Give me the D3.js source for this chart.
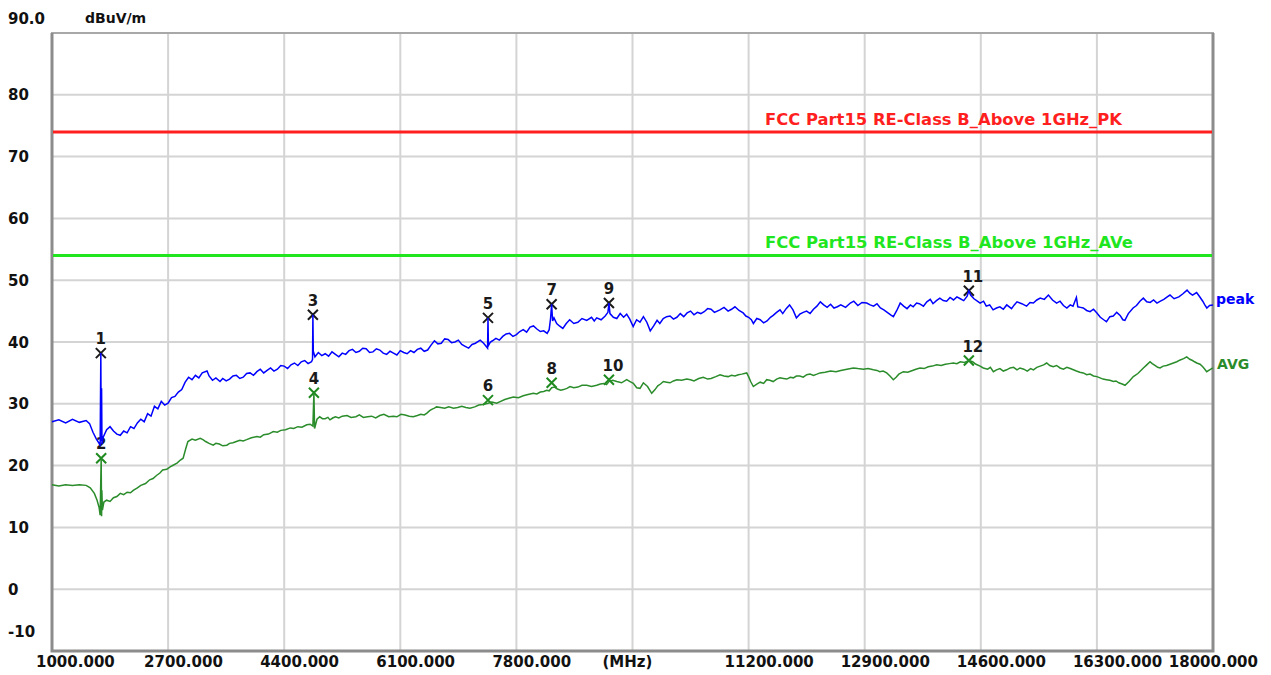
<!DOCTYPE html>
<html>
<head>
<meta charset="utf-8">
<script src="https://cdn.jsdelivr.net/npm/d3@7"></script>
<style>
    body { margin: 0; background: #fff; }
    text { font-family: "DejaVu Sans", sans-serif; font-weight: bold; }
</style>
</head>
<body>
<div id="chart"></div>
<script>
// DATA ----------------------------------------------
const xTicks = [1000, 2700, 4400, 6100, 7800, 9500, 11200, 12900, 14600, 16300, 18000];
const xTickLabels = ["1000.000", "2700.000", "4400.000", "6100.000", "7800.000", "(MHz)",
                     "11200.000", "12900.000", "14600.000", "16300.000", "18000.000"];
const yTicks = [90, 80, 70, 60, 50, 40, 30, 20, 10, 0, -10];
const yTickLabels = ["90.0", "80", "70", "60", "50", "40", "30", "20", "10", "0", "-10"];

const limitNames = ["FCC Part15 RE-Class B_Above 1GHz_PK", "FCC Part15 RE-Class B_Above 1GHz_AVe"];
const limitLevels = [74, 54];

// [MHz, dBuV/m]
const peakTrace = [
    [1000,27.1],[1100,27.4],[1200,26.9],[1300,27.5],[1400,27.0],[1500,27.3],[1550,26.8],[1600,25.4],
    [1650,24.3],[1690,23.6],[1705,23.2],[1715,38.2],[1720,24.0],[1726,32.5],[1732,23.5],[1750,24.6],
    [1800,25.8],[1850,26.3],[1900,25.6],[1950,25.1],[2000,24.9],[2050,25.6],[2100,25.3],[2150,26.3],
    [2200,26.0],[2250,26.9],[2300,27.5],[2350,27.1],[2400,28.4],[2450,28.0],[2500,29.6],[2550,29.2],
    [2600,30.4],[2650,29.8],[2700,30.1],[2750,31.0],[2800,31.2],[2850,31.9],[2900,32.3],[2950,33.5],
    [3000,34.3],[3050,33.9],[3100,34.6],[3150,34.2],[3200,35.0],[3270,35.3],[3300,34.5],[3350,33.8],
    [3400,34.2],[3460,33.6],[3500,34.1],[3550,33.7],[3600,34.0],[3650,34.5],[3700,34.6],[3750,34.1],
    [3800,34.3],[3850,34.9],[3900,35.0],[3950,34.6],[4000,35.2],[4050,35.6],[4100,35.0],[4150,35.4],
    [4200,35.8],[4250,35.3],[4300,35.6],[4350,36.2],[4400,36.1],[4450,35.7],[4500,36.3],[4550,36.6],
    [4600,36.2],[4650,36.8],[4700,37.0],[4750,36.5],[4800,36.8],[4815,37.2],[4820,44.4],[4826,38.5],
    [4850,37.6],[4900,38.3],[4950,37.8],[5000,38.1],[5050,37.7],[5100,38.4],[5150,38.0],[5200,37.6],
    [5250,38.2],[5300,38.0],[5350,38.6],[5400,38.8],[5450,38.3],[5500,38.5],[5550,39.0],[5600,38.9],
    [5650,38.3],[5700,38.4],[5750,38.9],[5800,38.7],[5850,38.2],[5900,38.0],[5950,38.5],[6000,38.2],
    [6050,37.9],[6100,38.6],[6150,38.3],[6200,38.1],[6250,38.6],[6300,38.3],[6350,38.8],[6400,39.0],
    [6450,38.5],[6500,38.7],[6550,39.5],[6600,40.2],[6650,39.7],[6700,39.8],[6750,40.5],[6800,40.4],
    [6850,39.9],[6900,40.0],[6950,40.3],[7000,39.6],[7050,39.3],[7100,39.0],[7150,39.6],[7200,39.8],
    [7270,40.3],[7320,39.8],[7350,39.4],[7378,39.0],[7384,43.9],[7390,39.4],[7420,40.0],[7450,40.2],
    [7500,40.6],[7550,40.3],[7600,40.9],[7650,41.3],[7700,41.4],[7750,40.9],[7800,41.2],[7850,41.7],
    [7900,42.0],[7950,41.6],[8000,42.4],[8050,42.6],[8100,42.1],[8150,41.7],[8200,41.8],[8250,41.4],
    [8280,42.0],[8300,43.8],[8316,46.1],[8330,43.4],[8350,43.9],[8390,43.0],[8430,42.6],[8480,42.2],
    [8530,43.0],[8580,43.6],[8640,43.0],[8700,43.2],[8760,43.8],[8830,43.5],[8900,44.0],[8940,43.4],
    [8976,43.9],[9040,43.6],[9100,44.2],[9140,44.8],[9155,46.3],[9170,44.6],[9220,44.0],[9270,43.8],
    [9320,44.6],[9370,44.0],[9415,44.5],[9460,43.7],[9510,42.5],[9560,43.6],[9610,43.2],[9660,44.1],
    [9710,43.2],[9760,41.8],[9810,42.6],[9860,43.5],[9900,43.0],[9950,43.8],[10000,44.1],[10050,44.2],
    [10100,43.7],[10150,44.0],[10200,44.6],[10250,44.1],[10300,44.7],[10350,45.0],[10400,44.4],[10450,44.8],
    [10500,44.6],[10550,44.9],[10600,45.4],[10650,45.3],[10700,44.8],[10780,45.2],[10840,45.6],[10900,45.0],
    [10950,45.3],[11000,45.7],[11060,45.1],[11120,44.7],[11160,44.2],[11200,44.0],[11240,43.6],[11270,43.0],
    [11320,43.8],[11370,43.6],[11420,43.1],[11470,43.4],[11520,44.0],[11560,44.3],[11610,44.8],[11660,45.2],
    [11700,44.6],[11750,45.4],[11800,46.0],[11850,45.2],[11900,43.9],[11950,44.5],[12000,44.8],[12050,45.0],
    [12100,44.6],[12150,45.3],[12200,45.8],[12250,46.5],[12300,46.0],[12350,45.6],[12400,46.1],[12450,45.5],
    [12500,45.7],[12550,46.0],[12620,45.6],[12690,46.3],[12740,46.6],[12800,45.9],[12860,46.4],[12930,46.3],
    [12980,46.0],[13030,45.8],[13080,46.2],[13130,45.5],[13180,45.2],[13230,44.8],[13280,44.4],[13320,44.1],
    [13370,45.1],[13420,46.3],[13470,45.8],[13520,45.4],[13570,46.0],[13610,45.7],[13660,46.3],[13700,46.2],
    [13760,45.8],[13810,46.5],[13860,46.9],[13900,46.2],[13950,46.7],[14000,47.1],[14050,46.7],[14100,46.6],
    [14150,47.2],[14200,46.8],[14250,47.3],[14300,47.0],[14350,46.7],[14400,47.4],[14425,48.3],[14450,47.6],
    [14500,47.0],[14550,46.6],[14590,46.3],[14640,46.6],[14680,45.8],[14730,46.0],[14780,45.2],[14830,45.5],
    [14880,45.7],[14930,45.3],[14980,46.0],[15050,45.4],[15090,46.0],[15130,46.5],[15200,46.2],[15270,45.8],
    [15320,46.4],[15370,46.3],[15420,46.8],[15470,47.1],[15530,46.9],[15590,47.6],[15650,46.8],[15710,46.3],
    [15760,46.6],[15810,45.9],[15860,45.5],[15910,46.0],[15950,45.8],[16000,47.2],[16020,45.7],[16060,45.6],
    [16100,45.5],[16150,45.1],[16200,44.9],[16250,45.3],[16300,44.7],[16350,44.0],[16400,43.6],[16440,43.3],
    [16490,44.1],[16540,44.2],[16590,44.8],[16640,44.3],[16680,43.6],[16710,43.5],[16760,44.6],[16830,45.5],
    [16880,45.9],[16930,46.6],[16980,47.1],[17030,46.5],[17080,46.4],[17130,46.8],[17180,46.3],[17230,46.6],
    [17280,46.9],[17330,47.3],[17370,47.6],[17430,47.0],[17500,47.3],[17560,47.8],[17620,48.4],[17660,47.9],
    [17700,47.6],[17760,48.0],[17800,47.4],[17850,46.6],[17880,46.0],[17910,45.5],[17950,45.9],[18000,46.0]
];

const avgTrace = [
    [1000,16.9],[1100,16.7],[1200,16.9],[1300,16.8],[1400,16.9],[1500,16.8],[1560,16.4],[1620,15.5],
    [1660,14.4],[1690,13.2],[1705,12.0],[1720,21.2],[1726,11.8],[1730,16.0],[1738,12.8],[1760,14.1],
    [1800,14.4],[1850,14.2],[1900,14.8],[1950,15.0],[2000,15.5],[2050,15.3],[2100,15.7],[2150,15.6],
    [2190,16.0],[2250,16.4],[2300,16.8],[2370,17.1],[2430,17.7],[2480,17.9],[2530,18.4],[2580,18.8],
    [2620,19.3],[2680,19.4],[2730,19.8],[2780,20.1],[2830,20.4],[2880,20.9],[2920,21.2],[2960,22.8],
    [2990,23.9],[3050,24.3],[3100,24.1],[3170,24.4],[3210,24.2],[3250,23.9],[3300,23.6],[3360,23.3],
    [3400,23.6],[3450,23.5],[3500,23.2],[3560,23.3],[3600,23.6],[3650,23.7],[3700,23.9],[3750,24.1],
    [3800,24.0],[3850,24.2],[3920,24.5],[4000,24.7],[4050,24.6],[4100,25.0],[4170,25.1],[4240,25.5],
    [4300,25.4],[4350,25.7],[4420,25.8],[4490,26.1],[4540,26.0],[4600,26.3],[4660,26.2],[4730,26.6],
    [4780,26.7],[4820,26.4],[4835,31.8],[4845,26.0],[4880,27.5],[4920,27.9],[4960,27.6],[5000,27.6],
    [5040,27.8],[5070,27.4],[5110,27.7],[5150,27.9],[5200,27.7],[5250,28.0],[5320,28.1],[5380,27.8],
    [5450,27.9],[5500,28.2],[5560,27.8],[5620,27.9],[5680,28.0],[5740,27.7],[5800,28.1],[5860,28.3],
    [5930,27.9],[6000,28.0],[6050,27.9],[6110,28.3],[6170,28.2],[6230,28.0],[6290,27.9],[6350,28.1],
    [6400,28.3],[6450,28.2],[6490,28.5],[6530,28.9],[6560,29.1],[6600,29.3],[6630,29.5],[6690,29.4],
    [6750,29.3],[6810,29.5],[6880,29.3],[6940,29.4],[7000,29.6],[7060,29.4],[7120,29.3],[7190,29.5],
    [7250,29.8],[7310,29.9],[7384,30.1],[7440,30.3],[7512,30.1],[7570,30.4],[7630,30.7],[7690,30.9],
    [7755,31.1],[7830,31.0],[7900,31.3],[7970,31.5],[8048,31.7],[8100,31.6],[8150,31.9],[8200,32.0],
    [8243,32.2],[8280,32.1],[8316,32.6],[8360,32.7],[8400,32.4],[8450,32.2],[8490,32.3],[8540,32.5],
    [8585,32.8],[8640,32.6],[8700,32.7],[8760,33.0],[8830,33.0],[8900,32.8],[8976,33.0],[9030,33.2],
    [9080,33.3],[9120,33.1],[9155,33.6],[9210,33.8],[9270,33.6],[9340,33.4],[9415,33.9],[9464,33.6],
    [9512,33.3],[9562,32.6],[9610,32.5],[9659,33.4],[9720,32.8],[9781,31.7],[9830,32.3],[9870,32.9],
    [9910,33.2],[9952,33.6],[10000,33.5],[10050,33.4],[10100,33.7],[10150,33.9],[10220,33.8],[10294,34.0],
    [10350,33.9],[10400,33.7],[10470,34.1],[10537,34.3],[10600,34.0],[10650,34.1],[10720,34.4],[10782,34.7],
    [10840,34.5],[10900,34.4],[10950,34.6],[11001,34.5],[11050,34.7],[11100,34.8],[11172,35.0],[11200,34.4],
    [11230,33.6],[11269,32.8],[11320,33.2],[11370,33.5],[11420,33.3],[11465,33.9],[11510,33.8],[11560,33.6],
    [11610,34.0],[11660,34.2],[11710,34.1],[11760,34.0],[11810,34.3],[11855,34.2],[11900,34.5],[11950,34.5],
    [12000,34.3],[12051,34.7],[12100,34.8],[12150,34.6],[12200,34.8],[12246,35.0],[12320,35.1],[12400,35.3],
    [12480,35.2],[12550,35.4],[12640,35.6],[12734,35.8],[12800,35.7],[12880,35.6],[12950,35.7],[13027,35.5],
    [13080,35.4],[13120,35.2],[13170,35.3],[13222,35.0],[13270,34.5],[13319,33.9],[13360,34.3],[13400,34.8],
    [13466,35.2],[13530,35.1],[13600,35.4],[13650,35.6],[13710,35.8],[13770,35.7],[13830,36.0],[13890,36.1],
    [13954,36.3],[14020,36.2],[14080,36.4],[14140,36.5],[14198,36.6],[14250,36.5],[14300,36.8],[14360,36.7],
    [14425,37.0],[14480,36.8],[14530,36.4],[14590,36.1],[14637,35.8],[14700,35.6],[14740,35.9],[14784,35.2],
    [14830,35.5],[14880,35.7],[14930,35.3],[14979,35.5],[15030,35.8],[15080,35.9],[15130,35.5],[15174,35.8],
    [15230,35.6],[15280,35.3],[15330,35.7],[15370,35.5],[15420,35.9],[15470,36.1],[15520,36.3],[15565,36.6],
    [15610,36.2],[15660,36.0],[15710,36.2],[15760,35.8],[15810,35.6],[15860,35.9],[15910,35.7],[15955,35.5],
    [16000,35.3],[16050,35.1],[16100,35.0],[16151,34.7],[16200,34.8],[16250,34.5],[16300,34.4],[16346,34.2],
    [16390,34.0],[16440,33.9],[16490,33.8],[16541,33.6],[16580,33.7],[16620,33.4],[16670,33.2],[16712,33.0],
    [16770,33.6],[16834,34.4],[16900,34.9],[16981,35.8],[17030,36.3],[17078,36.8],[17110,36.5],[17150,36.2],
    [17190,35.9],[17225,35.8],[17270,36.1],[17320,36.2],[17370,36.4],[17420,36.6],[17470,36.8],[17520,37.1],
    [17570,37.3],[17615,37.6],[17660,37.2],[17700,37.0],[17730,36.8],[17762,36.6],[17810,36.4],[17850,36.0],
    [17880,35.6],[17908,35.2],[17950,35.5],[18000,35.8]
];

const markerNo = [1, 2, 3, 4, 5, 6, 7, 8, 9, 10, 11, 12];
const markerFreq = [1715, 1720, 4820, 4835, 7384, 7384, 8316, 8316, 9155, 9155, 14425, 14425];
const markerLevel = [38.2, 21.2, 44.4, 31.8, 43.9, 30.6, 46.1, 33.4, 46.3, 33.9, 48.3, 37.0];
const markerTrace = ["peak", "avg", "peak", "avg", "peak", "avg", "peak", "avg", "peak", "avg", "peak", "avg"];

// LAYOUT --------------------------------------------
var width = 1271, height = 675;
var plot = {left: 52, right: 1213, top: 33, bottom: 651};

const peakColor = "#0000ff",
      avgColor = "#2a8c2a",
      limitColors = ["#ff1f1f", "#1fe61f"];

var svg = d3.select("#chart")
    .append("svg")
        .attr("width", width)
        .attr("height", height);

var x = d3.scaleLinear().domain([1000, 18000]).range([plot.left, plot.right]);
var y = d3.scaleLinear().domain([-10, 90]).range([plot.bottom, plot.top]);

// Grid ----------------------------------------------
svg.append("g")
    .selectAll("line")
    .data(xTicks.slice(1, -1))
    .enter()
    .append("line")
        .attr("x1", d => x(d)).attr("x2", d => x(d))
        .attr("y1", plot.top).attr("y2", plot.bottom)
        .attr("stroke", "#d4d4d4")
        .attr("stroke-width", 2);

svg.append("g")
    .selectAll("line")
    .data(yTicks.slice(1, -1))
    .enter()
    .append("line")
        .attr("x1", plot.left).attr("x2", plot.right)
        .attr("y1", d => y(d)).attr("y2", d => y(d))
        .attr("stroke", "#d4d4d4")
        .attr("stroke-width", 2);

// Frame
svg.append("rect")
    .attr("x", plot.left).attr("y", plot.top)
    .attr("width", plot.right - plot.left)
    .attr("height", plot.bottom - plot.top)
    .attr("fill", "none")
    .attr("stroke", "#a8a8a8")
    .attr("stroke-width", 2);
svg.append("path")
    .attr("d", `M${plot.left},${plot.top} V${plot.bottom} H${plot.right} V${plot.top}`)
    .attr("fill", "none")
    .attr("stroke", "#8c8c8c")
    .attr("stroke-width", 3);

// Axis labels ---------------------------------------
svg.append("g")
    .selectAll("text")
    .data(yTicks)
    .enter()
    .append("text")
        .attr("x", 8)
        .attr("y", (d, i) => {
            if (i === 0) return 24;                       // top label sits above the frame
            if (i === yTicks.length - 1) return y(d) - 14; // bottom label is lifted up
            return y(d) + 5.5;
        })
        .attr("font-size", 15)
        .attr("fill", "#111")
        .text((d, i) => yTickLabels[i]);

svg.append("text")
    .attr("x", 85).attr("y", 23)
    .attr("font-size", 14)
    .attr("fill", "#111")
    .text("dBuV/m");

svg.append("g")
    .selectAll("text")
    .data(xTicks)
    .enter()
    .append("text")
        .attr("x", (d, i) => {
            if (i === 0) return x(d) - 16;
            if (i === xTicks.length - 1) return x(d) + 45;
            if (xTickLabels[i] === "(MHz)") return x(d) - 30;
            return x(d) - 24;
        })
        .attr("y", 667)
        .attr("text-anchor", (d, i) => i === xTicks.length - 1 ? "end" : "start")
        .attr("font-size", 15)
        .attr("fill", "#111")
        .text((d, i) => xTickLabels[i]);

// Limit lines ---------------------------------------
limitLevels.forEach((lv, i) => {
    svg.append("line")
        .attr("x1", plot.left + 1).attr("x2", plot.right - 1)
        .attr("y1", y(lv)).attr("y2", y(lv))
        .attr("stroke", limitColors[i])
        .attr("stroke-width", 3);
    svg.append("text")
        .attr("x", 765)
        .attr("y", y(lv) - 7)
        .attr("font-size", 15)
        .attr("textLength", i === 0 ? 357 : 368)
        .attr("lengthAdjust", "spacingAndGlyphs")
        .attr("fill", limitColors[i])
        .text(limitNames[i]);
});

// Markers (labels drawn under the traces, as in the original plot) ---
var mk = svg.append("g")
    .selectAll("g")
    .data(markerNo)
    .enter()
    .append("g")
        .attr("transform", (d, i) => `translate(${x(markerFreq[i])},${y(markerLevel[i])})`);

mk.append("text")
    .attr("x", d => d > 9 ? 4 : 0)
    .attr("y", -9)
    .attr("text-anchor", "middle")
    .attr("font-size", 15)
    .attr("fill", "#1a1a1a")
    .text(d => d);

// Traces --------------------------------------------
var line = d3.line()
    .x(d => x(d[0]))
    .y(d => y(d[1]));

svg.append("path")
    .datum(avgTrace)
    .attr("d", line)
    .attr("fill", "none")
    .attr("stroke", avgColor)
    .attr("stroke-width", 1.5);

svg.append("path")
    .datum(peakTrace)
    .attr("d", line)
    .attr("fill", "none")
    .attr("stroke", peakColor)
    .attr("stroke-width", 1.5);

svg.append("text")
    .attr("x", 1216).attr("y", 304)
    .attr("font-size", 14)
    .attr("fill", peakColor)
    .text("peak");
svg.append("text")
    .attr("x", 1217).attr("y", 369)
    .attr("font-size", 14)
    .attr("fill", avgColor)
    .text("AVG");

// X marks on top
mk.append("path")
    .attr("d", "M-5,-5 L5,5 M-5,5 L5,-5")
    .attr("stroke", (d, i) => markerTrace[i] === "peak" ? "#1a1a1a" : "#1f8a1f")
    .attr("stroke-width", 2)
    .attr("fill", "none");
</script>
</body>
</html>
